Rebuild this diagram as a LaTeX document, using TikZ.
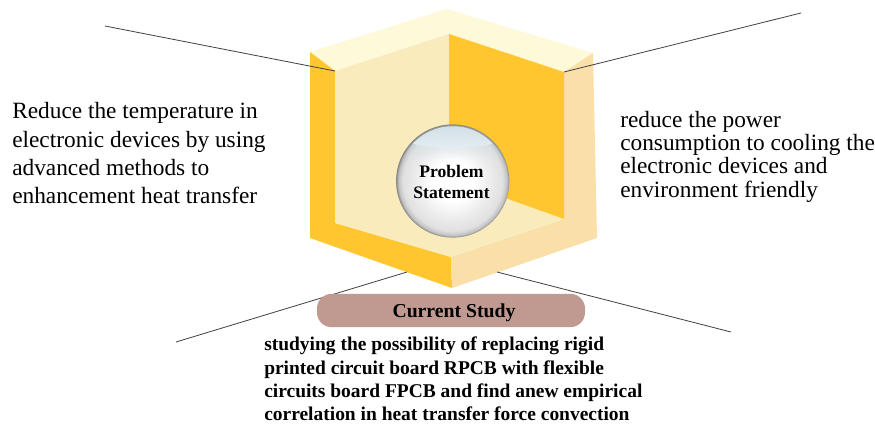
\documentclass[tikz,border=0pt]{standalone}
\usepackage{fontspec}
\usetikzlibrary{fadings}
\setmainfont{Liberation Serif}
\definecolor{goldc}{HTML}{FFC62F}
\definecolor{capc}{HTML}{FDF9D9}
\definecolor{innerc}{HTML}{F9EBBC}
\definecolor{sidec}{HTML}{FBDFA8}
\definecolor{pillc}{HTML}{C09A90}
\definecolor{lnc}{HTML}{404040}
\definecolor{bandtop}{HTML}{EEF4F6}
\definecolor{bandlow}{HTML}{D3E1E8}
\pgfdeclareradialshading{orbshade}{\pgfpoint{0bp}{0bp}}{
 color(0bp)=(white); color(9bp)=(white); color(16bp)=(white!93!black); color(22bp)=(white!88!black); color(24bp)=(white!76!black); color(25bp)=(white!52!black); color(50bp)=(white!52!black)}
\tikzfading[name=bandfade,top color=transparent!0,bottom color=transparent!100]
\tikzset{
 px/.style={x=0.75pt,y=-0.75pt},
 leader/.style={draw=lnc,line width=0.6pt},
 bodytext/.style={anchor=north west,inner sep=0pt,align=left,font=\fontsize{17.5}{21.1}\selectfont},
 righttext/.style={anchor=north west,inner sep=0pt,align=left,font=\fontsize{17.5}{17.4}\selectfont},
 boldtext/.style={anchor=north west,inner sep=0pt,align=left,font=\fontsize{14.6}{17.5}\selectfont\bfseries},
}
\begin{document}
\begin{tikzpicture}[px]
\useasboundingbox[fill=white] (0,0) rectangle (875,424);
\coordinate (tl) at (105,26);
\coordinate (tlend) at (335,71);
\coordinate (tr) at (801,13);
\coordinate (trend) at (564,72);
\coordinate (bl) at (176,342);
\coordinate (blend) at (407,272);
\coordinate (br) at (731,332);
\coordinate (brend) at (497,272);
% box faces
\fill[capc] (310,52) -- (447,9) -- (593,53) -- (564,72) -- (449,34) -- (335,71) -- cycle;
\fill[goldc] (310,52) -- (335,71) -- (335,223) -- (451,257) -- (452,288) -- (310,238) -- cycle;
\fill[sidec] (593,53) -- (597,238) -- (452,288) -- (451,257) -- (564,219) -- (564,72) -- cycle;
\fill[innerc] (335,71) -- (449,34) -- (449,178) -- (564,219) -- (451,257) -- (335,223) -- cycle;
\fill[goldc] (449,34) -- (564,72) -- (564,219) -- (449,178) -- cycle;
% leaders
\draw[leader] (tl) -- (tlend);
\draw[leader] (tr) -- (trend);
\draw[leader] (bl) -- (blend);
\draw[leader] (br) -- (brend);
% sphere
\node[circle,minimum size=85pt,inner sep=0pt,shading=orbshade] (orb) at (452.7,181) {};
\begin{scope}
\clip (orb.center) circle[radius=54.5];
\fill[bandtop] (452.7,137) ellipse[x radius=50,y radius=11];
\fill[bandlow,path fading=bandfade] (403,127) rectangle (503,160);
\end{scope}
\node[font=\fontsize{13.2}{15.3}\selectfont\bfseries,align=center,inner sep=0pt] (orbtext) at (451.5,182) {Problem\\Statement};
% pill
\node[fill=pillc,rounded corners=11pt,minimum width=201pt,minimum height=25pt,inner sep=0pt] (pill) at (451,310.5) {};
\node[font=\fontsize{14.8}{17}\selectfont\bfseries,inner sep=0pt] (pilltext) at (454,313) {Current Study};
% texts
\node[bodytext] (lefttext) at (12,102.5) {Reduce the temperature in\\electronic devices by using\\advanced methods to\\enhancement heat transfer};
\node[righttext] (rightside) at (620,111) {reduce the power\\consumption to cooling the\\electronic devices and\\environment friendly};
\node[boldtext] (study) at (264,337) {studying the possibility of replacing rigid\\printed circuit board RPCB with flexible\\circuits board FPCB and find anew empirical\\correlation in heat transfer force convection};
\end{tikzpicture}
\end{document}
